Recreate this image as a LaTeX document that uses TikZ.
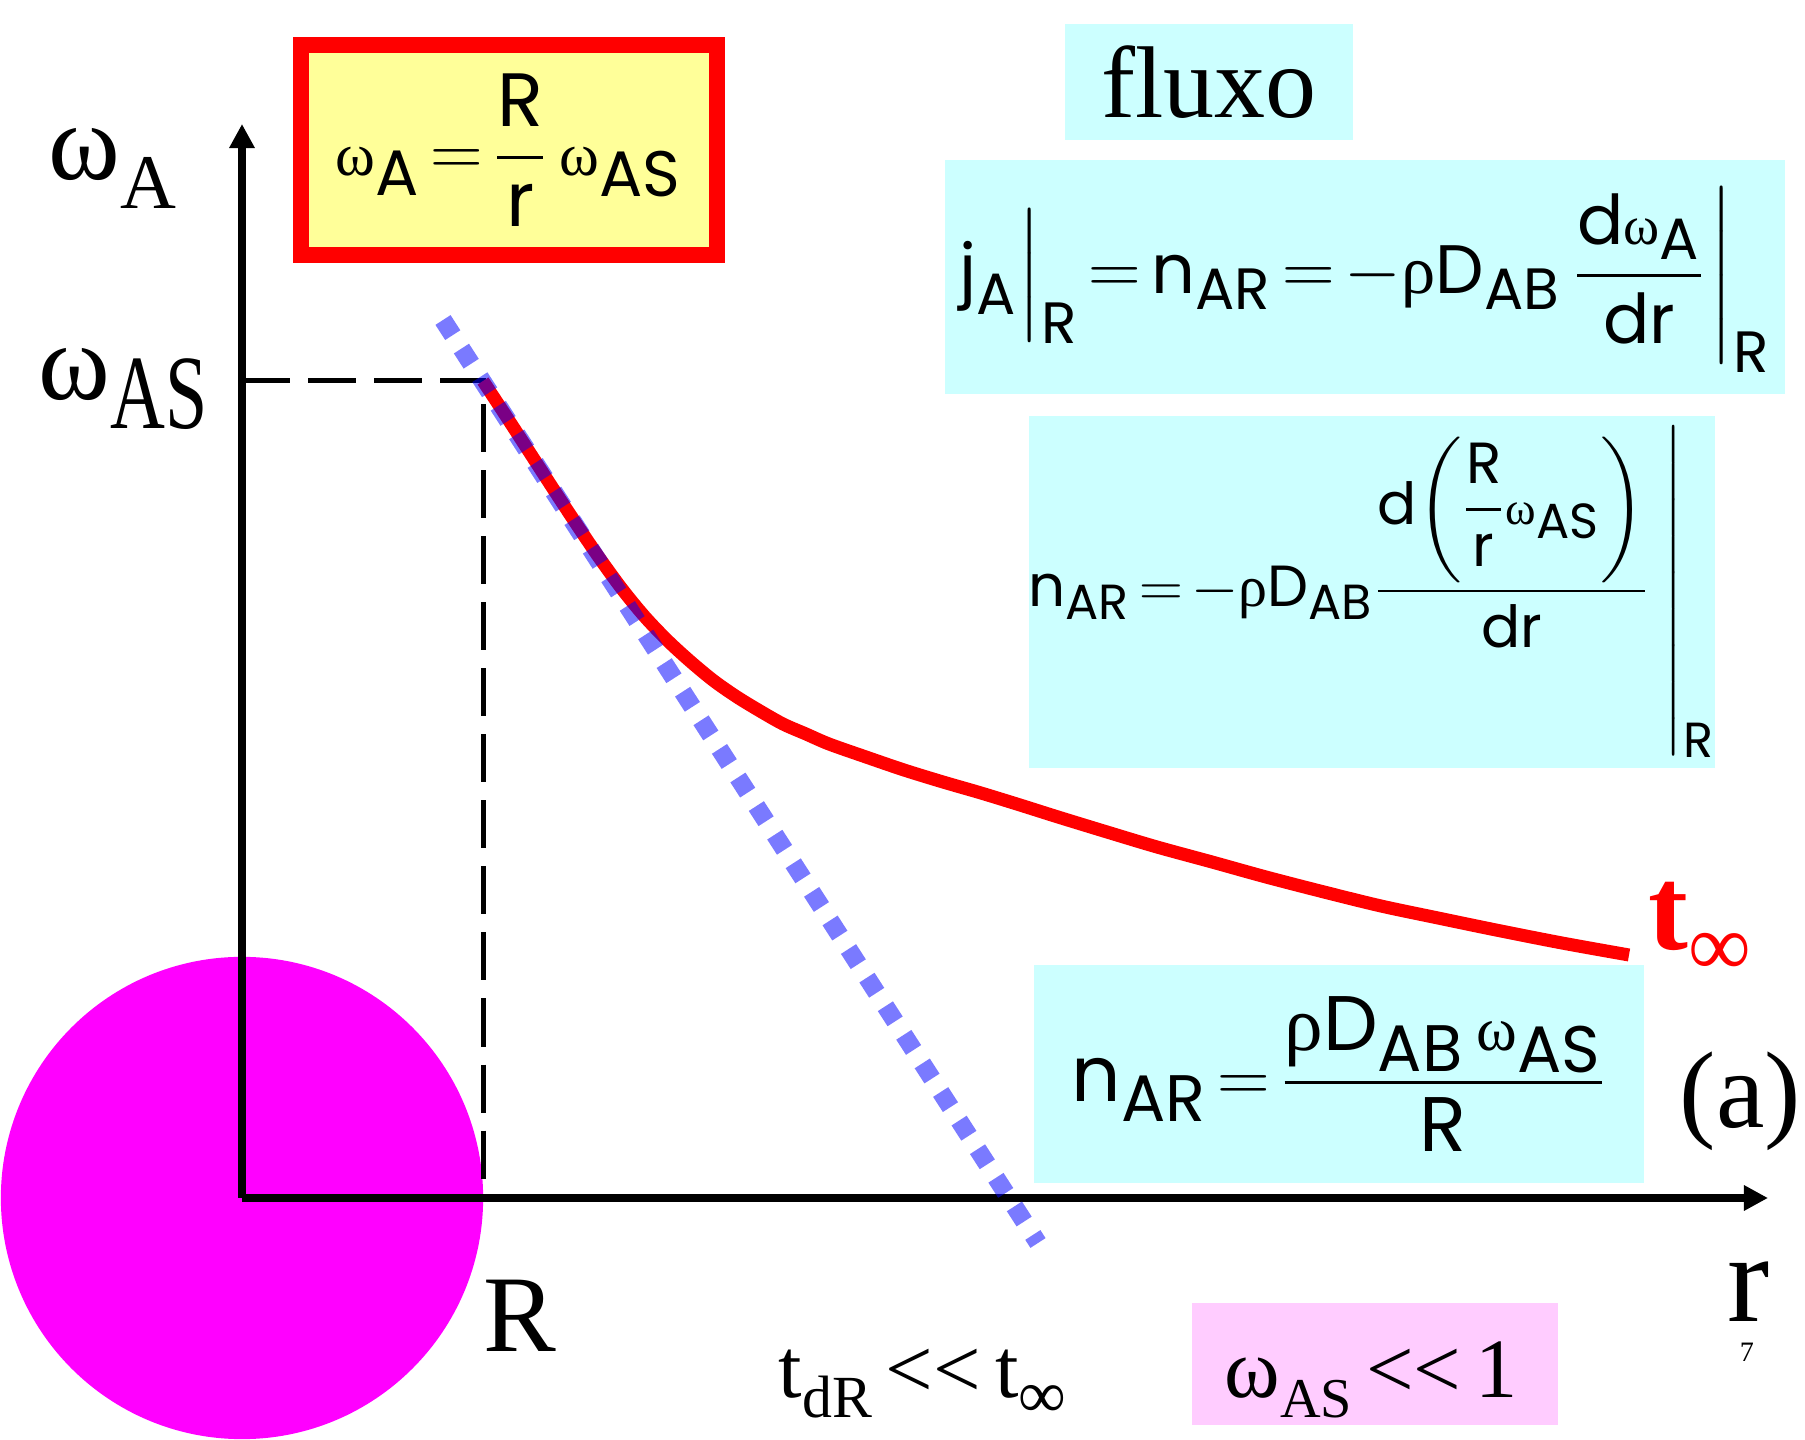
\documentclass[tikz,border=0pt]{standalone}
\usepackage{fontspec}
\usepackage{amsmath}
\setmainfont{Liberation Serif}
\newfontfamily\comic{Poppins}
\newfontfamily\grk{Liberation Serif}
\usetikzlibrary{arrows.meta, positioning}

\definecolor{cyanbox}{HTML}{CCFFFF}
\definecolor{yellowbox}{HTML}{FFFF99}
\definecolor{pinkbox}{HTML}{FFCCFF}
\definecolor{sphere}{HTML}{FF00FF}

\newcommand\fs[1]{\fontsize{#1}{#1}\selectfont}
\newcommand\om{\text{\grk\scalebox{0.8}{ω}}}
\newcommand\rh{\text{\grk ρ}}
\newcommand\ix[1]{_{\mbox{\scalebox{0.85}{#1}}}}
\thickmuskip=2.5mu plus 1mu
\medmuskip=2mu plus 1mu

\begin{document}
\begin{tikzpicture}[x=0.01cm, y=-0.01cm,
    axis/.style={line width=0.07cm, -{Triangle[length=0.24cm, width=0.24cm]}},
    guide/.style={line width=0.05cm, dash pattern=on 0.48cm off 0.18cm},
    eqbox/.style={fill=cyanbox, inner sep=0, font=\comic\fs{19.5}},
    lbl/.style={anchor=base west, inner sep=0}]
    \useasboundingbox (0,0) rectangle (1805,1440);

    \coordinate (O) at (242,1198);
    \coordinate (ytip) at (242,124);
    \coordinate (xtip) at (1768,1198);
    \coordinate (S) at (483,381);
    \coordinate (Sy) at (242,381);
    \coordinate (Rx) at (483,1198);
    \coordinate (tgA) at (443,320);
    \coordinate (tgB) at (1038,1243);

    % particle
    \fill[sphere] (O) circle [radius=2.41cm];

    % axes
    \draw[axis] (O) -- (ytip);
    \draw[axis] (O) -- (xtip);
    \draw[guide] (Sy) -- (S) -- (Rx);

    % boxes
    \node[draw=red, line width=0.16cm, fill=yellowbox, inner sep=0,
          minimum width=4.15cm, minimum height=2.09cm, font=\comic\fs{21.5}]
          (wbox) at (509,150) {$\om\ix{A} = \dfrac{\text{R}}{\text{r}}\,\om\ix{AS}$};

    \node[eqbox, minimum width=2.88cm, minimum height=1.16cm, font=\fs{29}]
          (fluxo) at (1209,82) {fluxo};

    \node[eqbox, minimum width=8.4cm, minimum height=2.33cm]
          (jA) at (1365,277) {$\text{j}\ix{A}\Big|\ix{R} = \text{n}\ix{AR} = -\rh\text{D}\ix{AB}\,\dfrac{\text{d}\om\ix{A}}{\text{dr}}\!\left.\rule[-0.76cm]{0pt}{1.88cm}\right|\ix{R}$};

    \node[eqbox, minimum width=6.82cm, minimum height=3.51cm, font=\comic\fs{16.5}]
          (nAR) at (1372,592) {$\text{n}\ix{AR} = -\rh\text{D}\ix{AB}\dfrac{\text{d}\mathopen{}\left(\dfrac{\text{R}}{\text{r}}\om\ix{AS}\right)}{\text{dr}}\left.\rule[-1.4cm]{0pt}{3.1cm}\right|\ix{R}$};

    \node[eqbox, minimum width=6.09cm, minimum height=2.18cm, font=\comic\fs{22}]
          (nARs) at (1339,1074) {$\text{n}\ix{AR} = \dfrac{\rh\text{D}\ix{AB}\,\om\ix{AS}}{\text{R}}$};

    \node[fill=pinkbox, inner sep=0, minimum width=3.65cm, minimum height=1.22cm]
          (small) at (1375,1364) {};

    % profile at t infinity and tangent at R
    \draw[red, line width=0.13cm] plot[smooth, tension=0.5] coordinates {
        (S) (506,416) (530,453) (552,487) (575,522) (598,556) (622,589)
        (645,617) (668,641) (691,662) (714,681) (737,697) (760,711)
        (783,724) (806,734) (829,744) (866,757) (904,770) (943,782)
        (981,793) (1020,805) (1058,817) (1107,832) (1157,847) (1212,862)
        (1266,877) (1324,892) (1381,906) (1438,918) (1496,930) (1562,943)
        (1629,955)};
    \draw[blue, opacity=0.52, line width=0.18cm, dash pattern=on 0.18cm off 0.16cm]
        (tgA) -- (tgB);

    % labels
    \node[lbl, font=\fs{31}] (wA) at (48,180) {ω\raisebox{-0.28cm}{\fs{22}A}};
    \node[lbl, font=\fs{31}] (wAS) at (38,400) {ω\raisebox{-0.28cm}{\scalebox{0.72}[1]{\fs{30}AS}}};
    \node[lbl, font=\fs{31}] (Rl) at (483,1352) {R};
    \node[lbl, font=\fs{36}] (rl) at (1727,1322) {r};
    \node[font=\fs{8}, inner sep=0] (pg) at (1747,1352) {7};
    \node[lbl, font=\fs{31}] (al) at (1679,1128) {(a)};
    \node[lbl, text=red, font=\fs{34}] (tinf) at (1648,950) {\textbf{t}\raisebox{-0.25cm}{\fs{25}∞}};
    \node[lbl, font=\fs{24}] (tdR) at (778,1397) {t\raisebox{-0.2cm}{\fs{17}dR}\,<{}<\,t\raisebox{-0.2cm}{\fs{19}∞}};
    \node[lbl, font=\fs{24}] (wcond) at (1224,1397) {ω\raisebox{-0.2cm}{\fs{16}AS}\,<{}<\,1};
\end{tikzpicture}
\end{document}
